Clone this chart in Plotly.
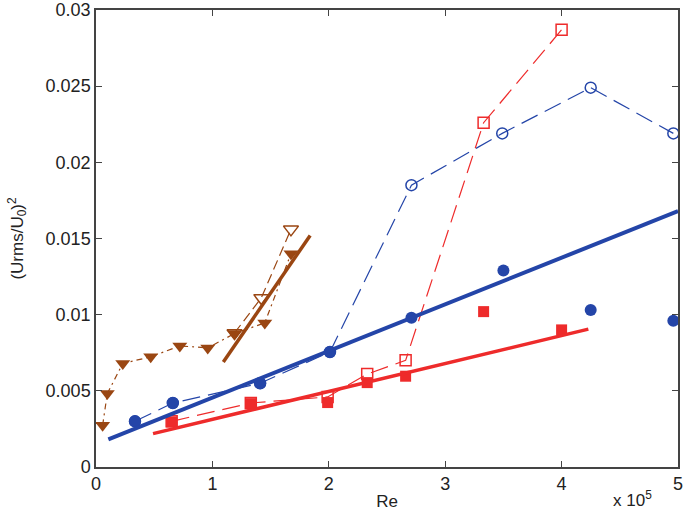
import plotly.graph_objects as go

BLUE = "#2445a8"
RED = "#ee2b2b"
BROWN = "#9a4612"

# Blue series (x in units of 1e5)
blue_open_x = [0.335, 0.66, 1.41, 2.01, 2.71, 3.49, 4.25, 4.96]
blue_open_y = [0.0030, 0.0042, 0.0055, 0.00755, 0.0185, 0.0219, 0.0249, 0.0219]
blue_fill_x = [0.335, 0.66, 1.41, 2.01, 2.71, 3.50, 4.25, 4.96]
blue_fill_y = [0.0030, 0.0042, 0.0055, 0.00755, 0.0098, 0.0129, 0.0103, 0.0096]
blue_fit_x = [0.106, 5.0]
blue_fit_y = [0.00182, 0.0168]

# Red series
red_open_x = [0.65, 1.33, 1.99, 2.33, 2.66, 3.33, 4.0]
red_open_y = [0.0030, 0.0042, 0.0046, 0.0061, 0.0070, 0.0226, 0.0287]
red_fill_x = [0.65, 1.33, 1.99, 2.33, 2.66, 3.33, 4.0]
red_fill_y = [0.00296, 0.00416, 0.00423, 0.00554, 0.00596, 0.0102, 0.0090]
red_fit_x = [0.49, 4.23]
red_fit_y = [0.00219, 0.00905]

# Brown series
brown_fill_x = [0.057, 0.097, 0.23, 0.47, 0.72, 0.96, 1.19, 1.45, 1.675]
brown_fill_y = [0.00274, 0.00482, 0.0068, 0.00723, 0.00795, 0.00782, 0.00876, 0.00946, 0.0140]
brown_open_x = [1.19, 1.42, 1.675]
brown_open_y = [0.0088, 0.0111, 0.0156]
brown_fit_x = [1.094, 1.84]
brown_fit_y = [0.0069, 0.0152]

x_ticks = [0, 1, 2, 3, 4, 5]
y_ticks = [0, 0.005, 0.01, 0.015, 0.02, 0.025, 0.03]
y_tick_text = ["0", "0.005", "0.01", "0.015", "0.02", "0.025", "0.03"]

fig = go.Figure()

# dashed connecting lines with open markers
fig.add_trace(go.Scatter(x=blue_open_x, y=blue_open_y, mode="lines+markers",
                         line=dict(color=BLUE, width=1.2, dash="18px,8px"),
                         marker=dict(symbol="circle-open", size=11, color=BLUE, line=dict(width=1.5))))
fig.add_trace(go.Scatter(x=red_open_x, y=red_open_y, mode="lines+markers",
                         line=dict(color=RED, width=1.2, dash="18px,8px"),
                         marker=dict(symbol="square-open", size=11, color=RED, line=dict(width=1.5))))
fig.add_trace(go.Scatter(x=brown_fill_x, y=brown_fill_y, mode="lines+markers",
                         line=dict(color=BROWN, width=1.2, dash="6px,4px,2px,4px"),
                         marker=dict(symbol="triangle-down", size=13, color=BROWN)))
fig.add_trace(go.Scatter(x=brown_open_x, y=brown_open_y, mode="lines+markers",
                         line=dict(color=BROWN, width=1.2, dash="10px,5px"),
                         marker=dict(symbol="triangle-down-open", size=13, color=BROWN, line=dict(width=1.5))))

# filled markers
fig.add_trace(go.Scatter(x=blue_fill_x, y=blue_fill_y, mode="markers",
                         marker=dict(symbol="circle", size=12, color=BLUE)))
fig.add_trace(go.Scatter(x=red_fill_x, y=red_fill_y, mode="markers",
                         marker=dict(symbol="square", size=11, color=RED)))

# fit lines
fig.add_trace(go.Scatter(x=blue_fit_x, y=blue_fit_y, mode="lines", line=dict(color=BLUE, width=4)))
fig.add_trace(go.Scatter(x=red_fit_x, y=red_fit_y, mode="lines", line=dict(color=RED, width=3.5)))
fig.add_trace(go.Scatter(x=brown_fit_x, y=brown_fit_y, mode="lines", line=dict(color=BROWN, width=3.5)))

axis_common = dict(showgrid=False, zeroline=False, showline=True, linecolor="#444444",
                   linewidth=1.5, mirror="allticks", ticks="inside", ticklen=6,
                   tickcolor="#444444", automargin=False,
                   tickfont=dict(size=18, color="#222222",
                                 family="Liberation Sans, Arial, sans-serif"))

fig.update_layout(
    width=685, height=515,
    margin=dict(l=96, r=7, t=10, b=48),
    plot_bgcolor="white", paper_bgcolor="white",
    showlegend=False,
    font=dict(family="Liberation Sans, Arial, sans-serif", color="#222222"),
    xaxis=dict(range=[0, 5], tickvals=x_ticks, ticktext=[str(v) for v in x_ticks],
               title=dict(text="Re", font=dict(size=17), standoff=2), **axis_common),
    yaxis=dict(range=[0, 0.03], tickvals=y_ticks, ticktext=y_tick_text,
               title=dict(text="(Urms/U<sub>0</sub>)<sup>2</sup>", font=dict(size=17), standoff=18),
               **axis_common),
    annotations=[dict(text="x 10<sup>5</sup>", x=0.921, y=-0.042, xref="paper", yref="paper",
                      xanchor="center", yanchor="top", showarrow=False,
                      font=dict(size=17, color="#222222"))],
)

fig.write_html("out.html", config={"displayModeBar": False},
               post_script="document.body.style.margin='0px';")
